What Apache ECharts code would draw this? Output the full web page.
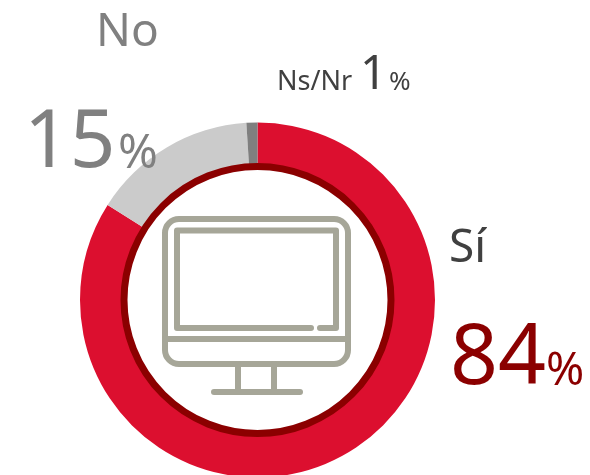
<!DOCTYPE html>
<html>
<head>
<meta charset="utf-8">
<style>html,body{margin:0;padding:0;background:#fff}#c{width:590px;height:475px}</style>
<script src="https://cdn.jsdelivr.net/npm/echarts@6/dist/echarts.min.js"></script>
</head>
<body>
<div id="c"></div>
<script>
const categories = ['Sí', 'No', 'Ns/Nr'];
const values = [84, 15, 1];
const colors = ['#DC0F2F', '#CBCBCB', '#7F7F7F'];
const FONT = '"Noto Sans"';
const ICON = '#A6A698';

function line(points, w) {
  return {type: 'polyline', silent: true, z: 10, shape: {points},
    style: {stroke: ICON, lineWidth: w || 6, fill: null, lineCap: 'round', lineJoin: 'round'}};
}

const graphic = [
  {type: 'circle', silent: true, z: 9, shape: {cx: 257.5, cy: 300, r: 133.5},
    style: {fill: '#fff', stroke: '#8B0000', lineWidth: 7}},
  {type: 'rect', silent: true, z: 10, shape: {x: 165, y: 219, width: 183, height: 145, r: 14},
    style: {fill: null, stroke: ICON, lineWidth: 6}},
  line([[311, 328], [177, 328], [177, 230.5], [336, 230.5], [336, 328], [320, 328]]),
  line([[165, 339], [348, 339]]),
  line([[238, 364], [238, 392]]),
  line([[274, 364], [274, 392]]),
  line([[214, 392], [300, 392]])
];

const chart = echarts.init(document.getElementById('c'), null, {renderer: 'canvas'});

const labels = [
  [categories[1], 96, 47, 46, '#808080'],
  [values[1], 24, 168, 80, '#808080'],
  ['%', 118, 169, 48, '#808080'],
  [categories[2], 277, 90, 27, '#404040'],
  [values[2], 360, 90, 47, '#404040'],
  ['%', 389, 90, 26, '#404040'],
  [categories[0], 449, 263, 46, '#404040'],
  [values[0], 450, 385, 84, '#8B0000'],
  ['%', 546, 386, 46, '#8B0000']
];
labels.forEach(([t, x, base, size, color]) => {
  graphic.push({type: 'text', x, y: base - 0.30 * size, silent: true, z: 11,
    style: {text: String(t), fontFamily: FONT, fontSize: size, fill: color, verticalAlign: 'middle', align: 'left'}});
});

chart.setOption({
  animation: false,
  backgroundColor: '#ffffff',
  series: [{
    type: 'pie',
    center: [257.5, 300],
    radius: [130, 177.5],
    startAngle: 90,
    clockwise: true,
    silent: true,
    label: {show: false},
    labelLine: {show: false},
    data: categories.map((c, i) => ({name: c, value: values[i], itemStyle: {color: colors[i]}}))
  }],
  graphic: {elements: graphic}
});
</script>
</body>
</html>
